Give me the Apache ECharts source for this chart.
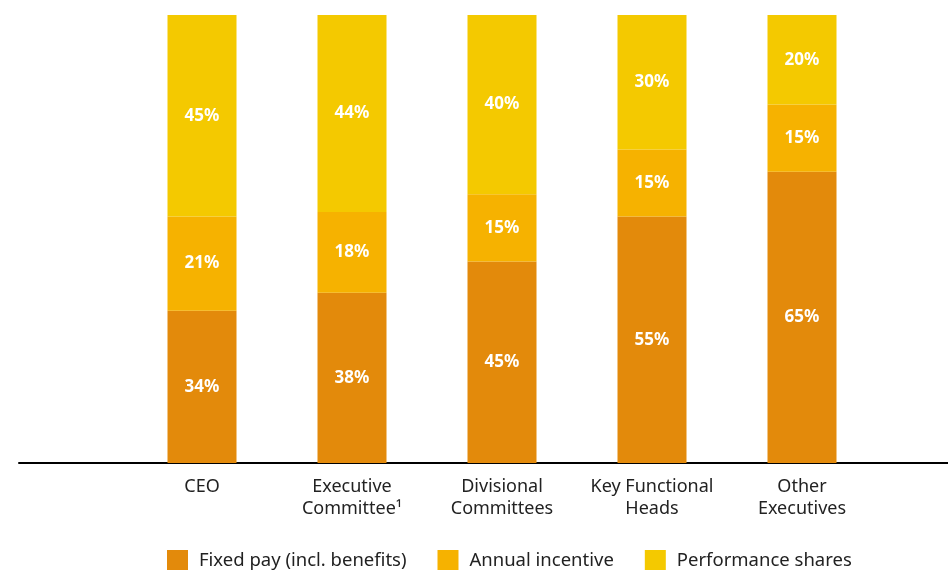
<!DOCTYPE html>
<html>
<head>
<meta charset="utf-8">
<script src="https://cdn.jsdelivr.net/npm/echarts@6/dist/echarts.min.js"></script>
<style>
html,body{margin:0;padding:0;background:#fff;}
#chart{width:948px;height:570px;}
</style>
</head>
<body>
<div id="chart"></div>
<script>
const categories = ['CEO', 'Executive\nCommittee\u00B9', 'Divisional\nCommittees', 'Key Functional\nHeads', 'Other\nExecutives'];
const fixedPay = [34, 38, 45, 55, 65];
const annualIncentive = [21, 18, 15, 15, 15];
const performanceShares = [45, 44, 40, 30, 20];
const seriesNames = ['Fixed pay (incl. benefits)', 'Annual incentive', 'Performance shares'];
const colors = ['#E38A0B', '#F6B200', '#F4C900'];

const font = '"Noto Sans", "Open Sans", sans-serif';
const chart = echarts.init(document.getElementById('chart'));

function barSeries(name, data, color) {
  return {
    name: name,
    type: 'bar',
    stack: 'total',
    xAxisIndex: 0,
    yAxisIndex: 0,
    data: data,
    barWidth: 69,
    itemStyle: { color: color },
    label: {
      show: true,
      position: 'inside',
      formatter: '{c}%',
      color: '#fff',
      fontFamily: font,
      fontWeight: 'bold',
      fontSize: 17
    }
  };
}

chart.setOption({
  animation: false,
  color: colors,
  grid: [
    { left: 127, right: 71, top: 15, bottom: 107 },
    { left: 19, right: 0, top: 15, bottom: 107 }
  ],
  legend: {
    top: 550,
    left: 167,
    padding: 0,
    itemWidth: 21,
    itemHeight: 21,
    itemGap: 31,
    icon: 'rect',
    textStyle: { fontFamily: font, fontSize: 18.5, color: '#222', padding: [0, 0, 0, 6] },
    data: seriesNames
  },
  xAxis: [
    {
      type: 'category',
      gridIndex: 0,
      data: categories,
      axisLine: { show: false },
      axisTick: { show: false },
      axisLabel: {
        margin: 13,
        fontFamily: font,
        fontSize: 18,
        lineHeight: 22,
        color: '#222',
        interval: 0
      }
    },
    {
      type: 'value',
      gridIndex: 1,
      min: 0,
      max: 1,
      axisLine: { show: true, lineStyle: { color: '#000', width: 2 } },
      axisTick: { show: false },
      axisLabel: { show: false },
      splitLine: { show: false }
    }
  ],
  yAxis: [
    { type: 'value', gridIndex: 0, min: 0, max: 100, show: false },
    { type: 'value', gridIndex: 1, min: 0, max: 1, show: false }
  ],
  series: [
    barSeries(seriesNames[0], fixedPay, colors[0]),
    barSeries(seriesNames[1], annualIncentive, colors[1]),
    barSeries(seriesNames[2], performanceShares, colors[2])
  ]
});
</script>
</body>
</html>
